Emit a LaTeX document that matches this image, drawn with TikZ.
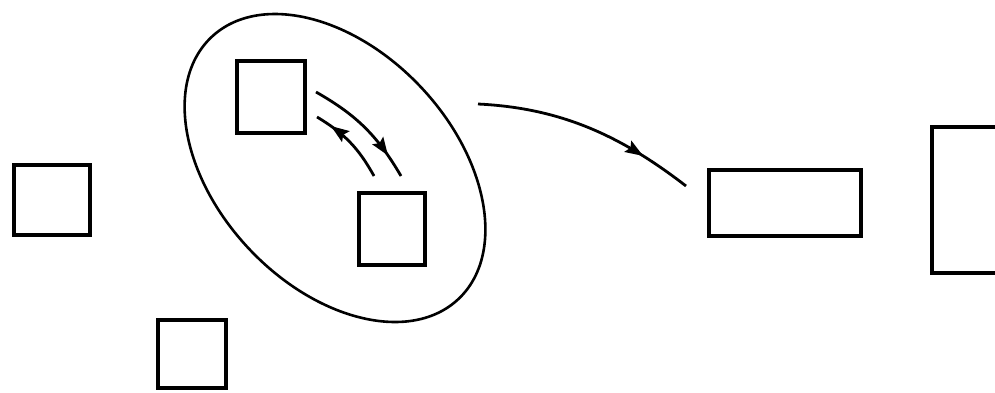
\documentclass[tikz,border=0pt]{standalone}
\usetikzlibrary{arrows.meta,decorations.markings,shapes.geometric}
\begin{document}
\begin{tikzpicture}[x=1pt,y=-1pt,
  box/.style={draw,line width=4.2pt,inner sep=0pt,outer sep=0pt,fill=none},
  grp/.style={draw,ellipse,line width=2.6pt,inner sep=0pt,outer sep=0pt},
  midarrow/.style={line width=2.8pt,decoration={markings,mark=at position #1 with {\arrow{Stealth[length=18pt,width=13pt,inset=3pt]}}},postaction={decorate}}
]
\useasboundingbox (0,0) rectangle (995,392);
\clip (0,0) rectangle (995,392);
\fill[white] (0,0) rectangle (995,392);
\node[box,minimum width=76pt,minimum height=70pt] (a) at (52,200) {};
\node[box,minimum width=68pt,minimum height=72pt] (b) at (271,97) {};
\node[box,minimum width=66pt,minimum height=72pt] (c) at (392,229) {};
\node[box,minimum width=68pt,minimum height=68pt] (d) at (192,354) {};
\node[box,minimum width=152pt,minimum height=66pt] (e) at (785,203) {};
\node[box,minimum width=110pt,minimum height=146pt] (f) at (987,200) {};
\node[grp,minimum width=360pt,minimum height=236pt,rotate=-46.7] (g) at (335,168) {};
\coordinate (u1) at (316,92);
\coordinate (u2) at (401,176);
\coordinate (l1) at (374,176);
\coordinate (l2) at (317,117);
\draw[midarrow=0.8] (u1) to[bend left=15] (u2);
\draw[midarrow=0.8] (l1) to[bend right=15] (l2);
\coordinate (s) at (478,104);
\coordinate (t) at (686,186);
\draw[midarrow=0.77] (s) .. controls (560,108) and (620,135) .. (t);
\end{tikzpicture}
\end{document}
